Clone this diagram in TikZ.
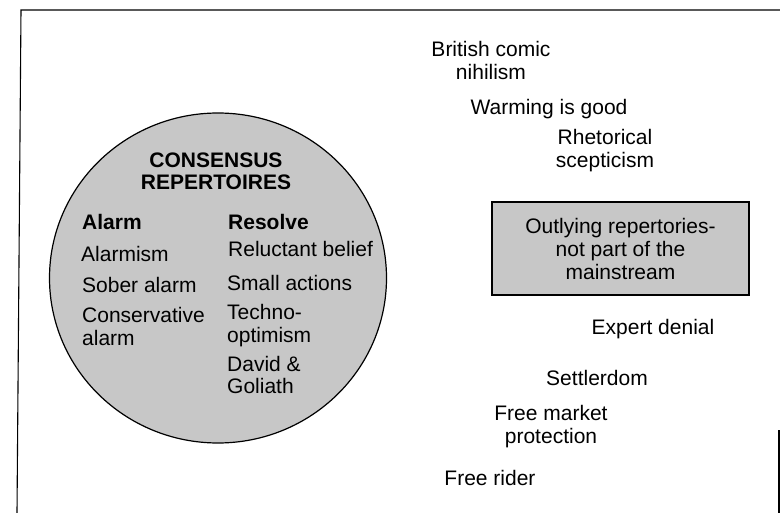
\documentclass[tikz,border=0pt]{standalone}
\usepackage{fontspec}
\setmainfont{Liberation Sans}
\usetikzlibrary{shapes.geometric}
\begin{document}
\begin{tikzpicture}[x=1pt,y=-1pt,
  lbl/.style={font=\fontsize{21}{23}\selectfont, inner sep=0pt, anchor=base, align=center},
  lblw/.style={lbl, anchor=base west, align=left},
  hd/.style={lbl, font=\fontsize{21}{22}\selectfont\bfseries},
  hdw/.style={hd, anchor=base west},
  shade/.style={fill=black!22},
  frame/.style={line width=1.1pt}]
\useasboundingbox (0,0) rectangle (780,513);
% outer frame (cropped)
\coordinate (fbl) at (17,513);
\coordinate (ftl) at (21,10);
\coordinate (ftr) at (780,10);
\coordinate (frt) at (779,430);
\coordinate (frb) at (779,513);
\draw[frame] (fbl) -- (ftl) -- (ftr);
\draw[frame] (frt) -- (frb);
% consensus circle
\node[ellipse, draw, shade, line width=1.2pt, minimum width=337pt, minimum height=330pt, inner sep=0pt] (cons) at (218,278) {};
% multi-line nodes: base anchor = baseline of the last line
\node[hd] (title) at (216,190) {CONSENSUS\\REPERTOIRES};
\node[hdw] (alarm) at (82,230) {Alarm};
\node[hdw] (resolve) at (228,230) {Resolve};
\node[lblw] (a1) at (81,262) {Alarmism};
\node[lblw] (a2) at (82,293) {Sober alarm};
\node[lblw] (a3) at (82,345) {Conservative\\alarm};
\node[lblw] (r1) at (228,257) {Reluctant belief};
\node[lblw] (r2) at (227,291) {Small actions};
\node[lblw] (r3) at (227,343) {Techno-\\optimism};
\node[lblw] (r4) at (227,394) {David \&\\Goliath};
% outlying repertoires
\node[lbl] (bcn) at (491,80) {British comic\\nihilism};
\node[lbl] (wig) at (549,115) {Warming is good};
\node[lbl] (rs) at (605,168) {Rhetorical\\scepticism};
\node[draw, shade, line width=1.3pt, minimum width=257pt, minimum height=93pt, inner sep=0pt,
      font=\fontsize{21}{23}\selectfont, align=center] (outly) at (620.5,248.5) {Outlying repertories-\\not part of the\\mainstream};
\node[lbl] (ed) at (653,335) {Expert denial};
\node[lbl] (sd) at (597,385) {Settlerdom};
\node[lbl] (fmp) at (551,443) {Free market\\protection};
\node[lbl] (fr) at (490,485) {Free rider};
\end{tikzpicture}
\end{document}
